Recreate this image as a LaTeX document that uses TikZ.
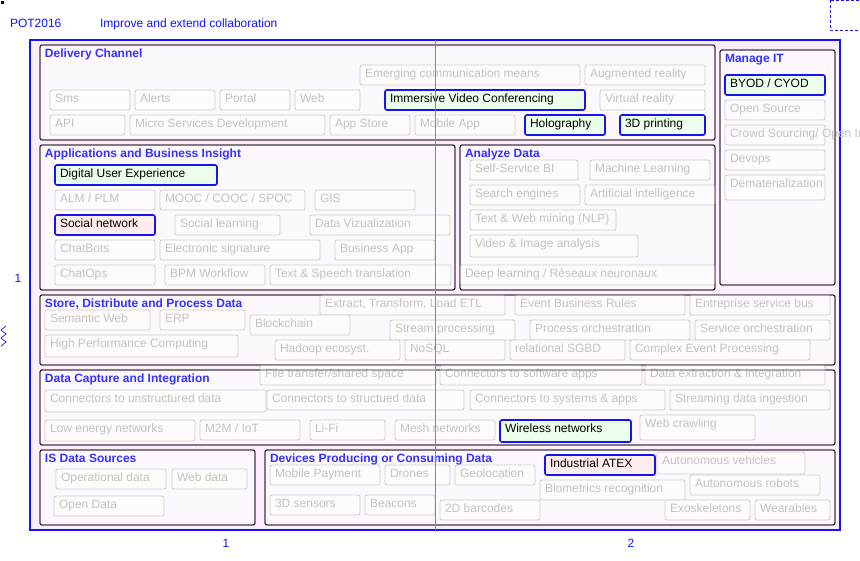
\documentclass[tikz,border=0pt]{standalone}
\usepackage{fontspec}
\setmainfont{Liberation Sans}

\definecolor{titleblue}{RGB}{51,51,255}
\definecolor{markblue}{RGB}{20,20,255}
\definecolor{framefill}{RGB}{252,238,252}
\definecolor{groupfill}{RGB}{253,248,253}
\definecolor{groupline}{RGB}{45,35,45}
\definecolor{cellfill}{RGB}{255,250,251}
\definecolor{cellline}{RGB}{205,205,205}
\definecolor{celltext}{RGB}{195,195,195}
\definecolor{hiblue}{RGB}{20,20,245}
\definecolor{higreen}{RGB}{236,255,236}
\definecolor{hipink}{RGB}{255,237,237}
\definecolor{pageline}{RGB}{120,120,255}

\tikzset{
  x=1pt, y=-1pt,
  every node/.style={font=\fontsize{12}{14}\selectfont, inner sep=0pt, outer sep=0pt},
  plaincell/.style={draw=cellline, fill=cellfill, rounded corners=2pt, line width=0.8pt},
  plaincelltxt/.style={text=celltext},
  greencell/.style={draw=hiblue, fill=higreen, rounded corners=2pt, line width=1.6pt},
  greencelltxt/.style={text=black},
  pinkcell/.style={draw=hiblue, fill=hipink, rounded corners=2pt, line width=1.6pt},
  pinkcelltxt/.style={text=black},
  groupbox/.style={draw=groupline, fill=groupfill, rounded corners=2pt, line width=0.9pt},
  groupedge/.style={draw=groupline, rounded corners=2pt, line width=0.9pt},
  grouptitle/.style={text=titleblue, font=\bfseries\fontsize{12}{14}\selectfont, anchor=base west},
  bluetext/.style={text=markblue},
}

% a labelled cell: style, name, x1, y1, x2, y2, text
\newcommand{\cell}[7]{%
  \pgfmathsetmacro\cellw{#5-#3}\pgfmathsetmacro\cellh{#6-#4}%
  \node[#1, minimum width=\cellw pt, minimum height=\cellh pt, anchor=north west] (#2) at (#3,#4) {};
  \node[#1txt, anchor=base west] (#2-t) at ([xshift=5pt,yshift=-12.5pt]#2.north west) {#7};
}
% a group frame: name, x1, y1, x2, y2
\newcommand{\grp}[5]{%
  \pgfmathsetmacro\cellw{#4-#2}\pgfmathsetmacro\cellh{#5-#3}%
  \node[groupbox, minimum width=\cellw pt, minimum height=\cellh pt, anchor=north west] (#1) at (#2,#3) {};
}

\begin{document}
\begin{tikzpicture}
\useasboundingbox (0,0) rectangle (860,560);
\clip (0,0) rectangle (860,560);

% header
\fill[black] (1,1) rectangle (4,4);
\node[bluetext, anchor=base west] (pot) at (10,27.6) {POT2016};
\node[bluetext, anchor=base west] (goal) at (100,27.6) {Improve and extend collaboration};
\draw[markblue, line width=0.9pt, dash pattern=on 3pt off 2pt] (830,0) rectangle (872,30);

% outer frame
\node[draw=markblue, fill=framefill, line width=1.3pt, minimum width=810pt, minimum height=490pt, anchor=north west] (frame) at (30,40) {};

% side and bottom marks
\node[bluetext] (row1) at (18,278) {1};
\node[bluetext] (col1) at (226,543) {1};
\node[bluetext] (col2) at (631,543) {2};
\draw[markblue, line width=0.7pt] (6,326) -- (1,330) -- (6,334) -- (1,338) -- (6,342) -- (1,346);

% group frames
\grp{gdel}{40}{45}{715}{140}
\grp{gman}{720}{50}{835}{285}
\grp{gapp}{40}{145}{455}{290}
\grp{gana}{460}{145}{715}{290}
\grp{gsto}{40}{295}{835}{365}
\grp{gcap}{40}{370}{835}{445}
\grp{gsrc}{40}{450}{255}{525}
\grp{gdev}{265}{450}{835}{525}

% Delivery Channel
\cell{plaincell}{emerg}{360}{65}{580}{85}{Emerging communication means}
\cell{plaincell}{augm}{585}{65}{705}{85}{Augmented reality}
\cell{plaincell}{sms}{50}{90}{130}{110}{Sms}
\cell{plaincell}{alerts}{135}{90}{215}{110}{Alerts}
\cell{plaincell}{portal}{220}{90}{290}{110}{Portal}
\cell{plaincell}{web}{295}{90}{360}{110}{Web}
\cell{greencell}{ivc}{385}{90}{585}{110}{Immersive Video Conferencing}
\cell{plaincell}{vr}{600}{90}{705}{110}{Virtual reality}
\cell{plaincell}{api}{50}{115}{125}{135}{API}
\cell{plaincell}{micro}{130}{115}{325}{135}{Micro Services Development}
\cell{plaincell}{store}{330}{115}{410}{135}{App Store}
\cell{plaincell}{mobapp}{415}{115}{515}{135}{Mobile App}
\cell{greencell}{holo}{525}{115}{605}{135}{Holography}
\cell{greencell}{print}{620}{115}{705}{135}{3D printing}

% Manage IT
\cell{greencell}{byod}{725}{75}{825}{95}{BYOD / CYOD}
\cell{plaincell}{opens}{725}{100}{825}{120}{Open Source}
\cell{plaincell}{crowd}{725}{125}{825}{145}{Crowd Sourcing/ Open Innovation}
\cell{plaincell}{devops}{725}{150}{825}{170}{Devops}
\cell{plaincell}{demat}{725}{175}{825}{200}{Dematerialization}

% Applications and Business Insight
\cell{greencell}{dux}{55}{165}{217}{185}{Digital User Experience}
\cell{plaincell}{alm}{55}{190}{155}{210}{ALM / PLM}
\cell{plaincell}{mooc}{160}{190}{305}{210}{MOOC / COOC / SPOC}
\cell{plaincell}{gis}{315}{190}{415}{210}{GIS}
\cell{pinkcell}{social}{55}{215}{155}{235}{Social network}
\cell{plaincell}{soclearn}{175}{215}{280}{235}{Social learning}
\cell{plaincell}{dataviz}{310}{215}{450}{235}{Data Vizualization}
\cell{plaincell}{chatbots}{55}{240}{155}{260}{ChatBots}
\cell{plaincell}{esign}{160}{240}{320}{260}{Electronic signature}
\cell{plaincell}{bizapp}{335}{240}{435}{260}{Business App}
\cell{plaincell}{chatops}{55}{265}{155}{285}{ChatOps}
\cell{plaincell}{bpm}{165}{265}{265}{285}{BPM Workflow}
\cell{plaincell}{tst}{270}{265}{451}{285}{Text \& Speech translation}

% Analyze Data
\cell{plaincell}{ssbi}{470}{160}{578}{180}{Self-Service BI}
\cell{plaincell}{ml}{590}{160}{710}{180}{Machine Learning}
\cell{plaincell}{search}{470}{185}{580}{205}{Search engines}
\cell{plaincell}{ai}{585}{185}{715}{205}{Artificial intelligence}
\cell{plaincell}{nlp}{470}{210}{616}{230}{Text \& Web mining (NLP)}
\cell{plaincell}{video}{470}{235}{638}{257}{Video \& Image analysis}
\cell{plaincell}{deep}{460}{265}{715}{285}{Deep learning / Réseaux neuronaux}

% Store, Distribute and Process Data
\cell{plaincell}{etl}{320}{295}{505}{315}{Extract, Transform, Load ETL}
\cell{plaincell}{ebr}{515}{295}{685}{315}{Event Business Rules}
\cell{plaincell}{esb}{690}{295}{830}{315}{Entreprise service bus}
\cell{plaincell}{semweb}{45}{310}{150}{330}{Semantic Web}
\cell{plaincell}{erp}{160}{310}{245}{330}{ERP}
\cell{plaincell}{chain}{250}{315}{350}{335}{Blockchain}
\cell{plaincell}{stream}{390}{320}{515}{340}{Stream processing}
\cell{plaincell}{porch}{530}{320}{690}{340}{Process orchestration}
\cell{plaincell}{sorch}{695}{320}{830}{340}{Service orchestration}
\cell{plaincell}{hpc}{45}{335}{238}{357}{High Performance Computing}
\cell{plaincell}{hadoop}{275}{340}{400}{360}{Hadoop ecosyst.}
\cell{plaincell}{nosql}{405}{340}{505}{360}{NoSQL}
\cell{plaincell}{sgbd}{510}{340}{625}{360}{relational SGBD}
\cell{plaincell}{cep}{630}{340}{810}{360}{Complex Event Processing}

% Data Capture and Integration
\cell{plaincell}{fts}{260}{365}{436}{385}{File transfer/shared space}
\cell{plaincell}{csw}{440}{365}{642}{385}{Connectors to software apps}
\cell{plaincell}{dei}{645}{365}{825}{385}{Data extraction \& integration}
\cell{plaincell}{cud}{45}{390}{266}{412}{Connectors to unstructured data}
\cell{plaincell}{csd}{267}{390}{464}{410}{Connectors to structued data}
\cell{plaincell}{csa}{470}{390}{665}{410}{Connectors to systems \& apps}
\cell{plaincell}{sdi}{670}{390}{830}{410}{Streaming data ingestion}
\cell{plaincell}{len}{45}{420}{195}{441}{Low energy networks}
\cell{plaincell}{m2m}{200}{420}{300}{440}{M2M / IoT}
\cell{plaincell}{lifi}{310}{420}{385}{440}{Li-Fi}
\cell{plaincell}{mesh}{395}{420}{495}{440}{Mesh networks}
\cell{greencell}{wifi}{500}{420}{631}{442}{Wireless networks}
\cell{plaincell}{crawl}{640}{415}{755}{440}{Web crawling}

% IS Data Sources
\cell{plaincell}{opdata}{56}{469}{166}{489}{Operational data}
\cell{plaincell}{webdata}{172}{469}{247}{489}{Web data}
\cell{plaincell}{opendata}{54}{496}{164}{516}{Open Data}

% Devices Producing or Consuming Data
\cell{plaincell}{mpay}{270}{465}{380}{485}{Mobile Payment}
\cell{plaincell}{drones}{385}{465}{450}{485}{Drones}
\cell{plaincell}{geo}{455}{465}{535}{485}{Geolocation}
\cell{pinkcell}{atex}{545}{455}{655}{475}{Industrial ATEX}
\cell{plaincell}{autoveh}{657}{452}{805}{474}{Autonomous vehicles}
\cell{plaincell}{bio}{540}{480}{685}{500}{Biometrics recognition}
\cell{plaincell}{robots}{690}{475}{820}{495}{Autonomous robots}
\cell{plaincell}{sensors}{270}{495}{360}{515}{3D sensors}
\cell{plaincell}{beacons}{365}{495}{435}{515}{Beacons}
\cell{plaincell}{barcodes}{440}{500}{540}{520}{2D barcodes}
\cell{plaincell}{exo}{665}{500}{750}{520}{Exoskeletons}
\cell{plaincell}{wear}{755}{500}{830}{520}{Wearables}

% group edges and titles over the cells
\foreach \g in {gdel,gman,gapp,gana,gsto,gcap,gsrc,gdev}
  \draw[groupedge] (\g.north west) rectangle (\g.south east);
\node[grouptitle] (tdel) at ([xshift=5pt,yshift=-12.6pt]gdel.north west) {Delivery Channel};
\node[grouptitle] (tman) at ([xshift=5pt,yshift=-12.6pt]gman.north west) {Manage IT};
\node[grouptitle] (tapp) at ([xshift=5pt,yshift=-12.6pt]gapp.north west) {Applications and Business Insight};
\node[grouptitle] (tana) at ([xshift=5pt,yshift=-12.6pt]gana.north west) {Analyze Data};
\node[grouptitle] (tsto) at ([xshift=5pt,yshift=-12.6pt]gsto.north west) {Store, Distribute and Process Data};
\node[grouptitle] (tcap) at ([xshift=5pt,yshift=-12.6pt]gcap.north west) {Data Capture and Integration};
\node[grouptitle] (tsrc) at ([xshift=5pt,yshift=-12.6pt]gsrc.north west) {IS Data Sources};
\node[grouptitle] (tdev) at ([xshift=5pt,yshift=-12.6pt]gdev.north west) {Devices Producing or Consuming Data};

% page divider
\coordinate (divtop) at (435,40);
\coordinate (divbot) at (435,530);
\draw[pageline, line width=0.6pt] (divtop) -- (divbot);
\end{tikzpicture}
\end{document}
